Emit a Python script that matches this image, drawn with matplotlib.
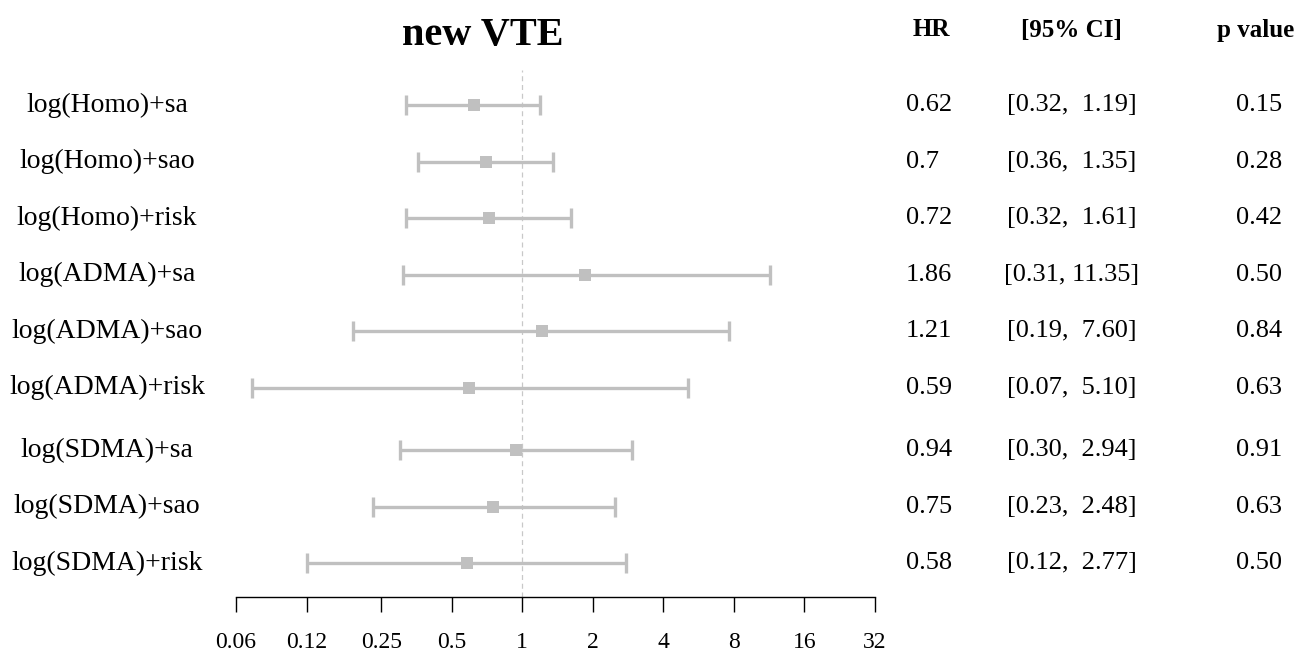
import matplotlib
matplotlib.use("Agg")
import matplotlib.pyplot as plt
from matplotlib.transforms import blended_transform_factory

plt.rcParams['font.family'] = ['Liberation Serif', 'DejaVu Serif']

# ---- data ----
labels = ["log(Homo)+sa", "log(Homo)+sao", "log(Homo)+risk",
          "log(ADMA)+sa", "log(ADMA)+sao", "log(ADMA)+risk",
          "log(SDMA)+sa", "log(SDMA)+sao", "log(SDMA)+risk"]
hr = [0.62, 0.70, 0.72, 1.86, 1.21, 0.59, 0.94, 0.75, 0.58]
hr_text = ["0.62", "0.7", "0.72", "1.86", "1.21", "0.59", "0.94", "0.75", "0.58"]
ci_low = [0.32, 0.36, 0.32, 0.31, 0.19, 0.07, 0.30, 0.23, 0.12]
ci_high = [1.19, 1.35, 1.61, 11.35, 7.60, 5.10, 2.94, 2.48, 2.77]
p_values = ["0.15", "0.28", "0.42", "0.50", "0.84", "0.63", "0.91", "0.63", "0.50"]
tick_values = [0.06, 0.12, 0.25, 0.5, 1, 2, 4, 8, 16, 32]
tick_labels = ["0.06", "0.12", "0.25", "0.5", "1", "2", "4", "8", "16", "32"]

# ---- layout ----
W, H = 1302, 653
fig = plt.figure(figsize=(W / 100, H / 100), dpi=100)
ax_left, ax_right = 236, 875
ax_bottom_px, ax_top_px = 597, 70
ax = fig.add_axes([ax_left / W, 1 - ax_bottom_px / H,
                   (ax_right - ax_left) / W, (ax_bottom_px - ax_top_px) / H])

row_px0, row_step = 105, 56.5
# row positions (third group slightly separated)
row_y = [i + (0.11 if i >= 6 else 0.0) for i in range(len(labels))]

ax.set_xscale('log', base=2)
ax.set_xlim(tick_values[0], tick_values[-1])
ax.set_ylim((ax_bottom_px - row_px0) / row_step, (ax_top_px - row_px0) / row_step)

col = '#c0c0c0'
for y, m, lo, hi in zip(row_y, hr, ci_low, ci_high):
    ax.errorbar([m], [y], xerr=[[m - lo], [hi - m]], fmt='none',
                ecolor=col, elinewidth=2.4, capsize=7.5, capthick=2.4)
    ax.plot([m], [y], marker='s', color=col, markersize=8.5,
            markeredgewidth=0, linestyle='none', zorder=3)

ax.axvline(1, color='#c8c8c8', lw=0.9, ls=(0, (4, 3)), zorder=0)

for s in ['top', 'right', 'left']:
    ax.spines[s].set_visible(False)
ax.spines['bottom'].set_linewidth(1.0)
ax.set_yticks([])
ax.set_xticks(tick_values)
ax.set_xticklabels(tick_labels, fontsize=17)
ax.minorticks_off()
ax.tick_params(axis='x', direction='out', length=11, width=1.0, pad=14)

tr = blended_transform_factory(fig.transFigure, ax.transData)
for y, lab, ht, lo, hi, p in zip(row_y, labels, hr_text, ci_low, ci_high, p_values):
    fig.text(107 / W, y, lab, transform=tr, ha='center', va='center', fontsize=20)
    fig.text(906 / W, y, ht, transform=tr, ha='left', va='center', fontsize=19)
    fig.text(1072 / W, y, "[%.2f, %5.2f]" % (lo, hi), transform=tr,
             ha='center', va='center', fontsize=19)
    fig.text(1259 / W, y, p, transform=tr, ha='center', va='center', fontsize=19)

fig.text(483 / W, 1 - 36 / H, "new VTE", ha='center', va='center',
         fontsize=29, fontweight='bold')
fig.text(931 / W, 1 - 30 / H, "HR", ha='center', va='center', fontsize=18, fontweight='bold')
fig.text(1071 / W, 1 - 30 / H, "[95% CI]", ha='center', va='center', fontsize=18, fontweight='bold')
fig.text(1256 / W, 1 - 30 / H, "p value", ha='center', va='center', fontsize=18, fontweight='bold')

fig.savefig("out.png", dpi=100)
